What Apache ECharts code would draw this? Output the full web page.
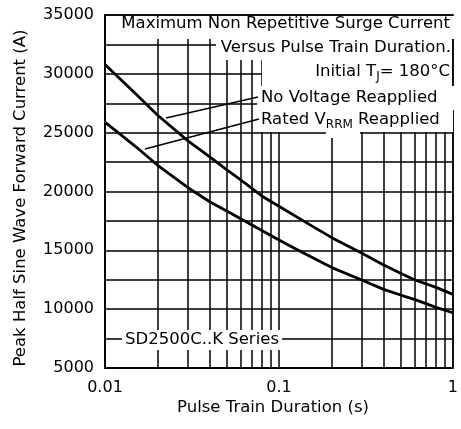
<!DOCTYPE html>
<html>
<head>
<meta charset="utf-8">
<script src="https://cdn.jsdelivr.net/npm/echarts@6/dist/echarts.min.js"></script>
<style>html,body{margin:0;padding:0;background:#fff}#c{width:461px;height:429px}</style>
</head>
<body>
<div id="c"></div>
<script>
// Data
const noVoltageX = [0.01, 0.015, 0.02, 0.03, 0.04, 0.05, 0.06, 0.08, 0.1, 0.138, 0.2, 0.3, 0.4, 0.5, 0.6, 0.8, 1];
const noVoltageY = [30800, 28300, 26500, 24300, 22950, 21850, 21000, 19600, 18750, 17500, 16100, 14750, 13750, 13050, 12500, 11850, 11260];
const ratedX = [0.01, 0.015, 0.02, 0.03, 0.04, 0.0551, 0.1, 0.129, 0.2, 0.2965, 0.4, 0.5, 0.6, 0.8, 1];
const ratedY = [25900, 23820, 22250, 20320, 19130, 18000, 15875, 15000, 13555, 12500, 11685, 11200, 10835, 10155, 9695];
const xMinorGrid = [0.02, 0.03, 0.04, 0.05, 0.06, 0.07, 0.08, 0.09, 0.2, 0.3, 0.4, 0.5, 0.6, 0.7, 0.8, 0.9];
const yTicks = [5000, 10000, 15000, 20000, 25000, 30000, 35000];

const FONT = 'DejaVu Sans';
const FS = 16.5;
const chart = echarts.init(document.getElementById('c'), null, {renderer: 'canvas'});

function pairs(xs, ys) { return xs.map((x, i) => [x, ys[i]]); }

const white = (x, y, w, h) => ({type: 'rect', z: 50, shape: {x, y, width: w, height: h}, style: {fill: '#fff'}});
const txt = (x, y, text, align, rich) => ({
  type: 'text', z: 60, x, y,
  style: {text, fill: '#000', font: FS + 'px ' + FONT, align, verticalAlign: 'middle', rich: rich || {}}
});
const richSub = {
  n: {fontSize: FS, fontFamily: FONT, fill: '#000'},
  s: {fontSize: 12, fontFamily: FONT, fill: '#000', padding: [9, 0, 0, 0]}
};
const GL = {color: '#000', width: 1.5};

chart.setOption({
  animation: false,
  grid: {left: 105, right: 5, top: 15, bottom: 61, show: true, borderColor: '#000', borderWidth: 1.5},
  xAxis: {
    type: 'log', min: 0.01, max: 1, logBase: 10,
    axisLine: {show: true, lineStyle: GL},
    axisTick: {show: false},
    axisLabel: {fontFamily: FONT, fontSize: 16, color: '#000', margin: 12,
      formatter: v => v >= 1 ? '1' : (v >= 0.1 ? '0.1' : '0.01')},
    splitLine: {show: true, lineStyle: GL}
  },
  yAxis: {
    type: 'value', min: yTicks[0], max: yTicks[yTicks.length - 1], interval: 5000,
    axisLine: {show: true, lineStyle: GL},
    axisTick: {show: false},
    axisLabel: {fontFamily: FONT, fontSize: 16, color: '#000', margin: 11, formatter: v => String(v)},
    splitLine: {show: true, lineStyle: GL},
    minorTick: {show: false, splitNumber: 2},
    minorSplitLine: {show: true, lineStyle: GL}
  },
  series: [
    {
      type: 'line', name: 'No Voltage Reapplied', data: pairs(noVoltageX, noVoltageY),
      smooth: false, showSymbol: false, lineStyle: {color: '#000', width: 2.8, join: 'round'}, z: 5,
      markLine: {
        silent: true, symbol: 'none', label: {show: false},
        lineStyle: {color: '#000', width: 1.5, type: 'solid'},
        data: xMinorGrid.map(v => ({xAxis: v}))
      }
    },
    {
      type: 'line', name: 'Rated VRRM Reapplied', data: pairs(ratedX, ratedY),
      smooth: false, showSymbol: false, lineStyle: {color: '#000', width: 2.8, join: 'round'}, z: 5
    }
  ],
  graphic: [
    white(106, 16, 349, 23),
    white(216, 38, 236, 22),
    white(262, 60, 190, 26),
    white(257, 86, 197, 24),
    white(257, 110, 196, 22),
    white(326, 128, 34, 10),
    white(122, 330, 160, 20),
    {type: 'line', z: 55, shape: {x1: 166, y1: 118, x2: 258, y2: 97}, style: {stroke: '#000', lineWidth: 1.3}},
    {type: 'line', z: 55, shape: {x1: 145, y1: 149, x2: 259, y2: 119}, style: {stroke: '#000', lineWidth: 1.3}},
    txt(450, 24, 'Maximum Non Repetitive Surge Current', 'right'),
    txt(451, 48, 'Versus Pulse Train Duration.', 'right'),
    txt(450, 72, '{n|Initial T}{s|J}{n|= 180°C}', 'right', richSub),
    txt(261, 98, 'No Voltage Reapplied', 'left'),
    txt(261, 120, '{n|Rated V}{s|RRM}{n| Reapplied}', 'left', richSub),
    txt(125, 340, 'SD2500C..K Series', 'left'),
    {type: 'text', z: 60, x: 21, y: 198, rotation: Math.PI / 2,
      style: {text: 'Peak Half Sine Wave Forward Current (A)', fill: '#000', font: FS + 'px ' + FONT, align: 'center', verticalAlign: 'middle'}},
    {type: 'text', z: 60, x: 273, y: 408,
      style: {text: 'Pulse Train Duration (s)', fill: '#000', font: FS + 'px ' + FONT, align: 'center', verticalAlign: 'middle'}}
  ]
});
</script>
</body>
</html>
